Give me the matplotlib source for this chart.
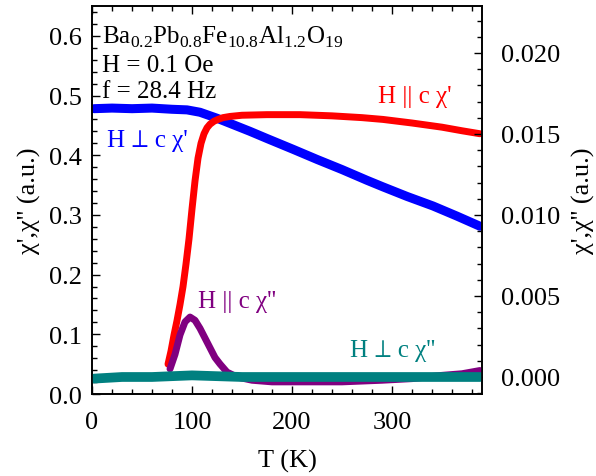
import numpy as np
import matplotlib
matplotlib.use('Agg')
import matplotlib.pyplot as plt
from matplotlib.ticker import MultipleLocator, FormatStrFormatter

plt.rcParams['font.family'] = ['Liberation Serif', 'STIXGeneral', 'DejaVu Serif']
plt.rcParams['mathtext.fontset'] = 'custom'
plt.rcParams['mathtext.rm'] = 'Liberation Serif'
plt.rcParams['font.size'] = 19

# H perp c chi' (left axis)
t_perp_re = [2, 20, 40, 60, 80, 95, 108, 125, 140, 158, 175, 201, 225, 250, 275, 291, 315, 341, 365, 388]
chi_perp_re = [0.478, 0.479, 0.478, 0.479, 0.477, 0.476, 0.472, 0.462, 0.452, 0.440, 0.428, 0.410, 0.393, 0.376, 0.358, 0.347, 0.331, 0.315, 0.298, 0.281]

# H || c chi' (left axis)
t_par_re = [76, 79, 82, 85, 88, 91, 94, 97, 100, 103, 106, 109, 112, 115, 118, 122, 126, 131, 138, 150, 175, 208, 240, 270, 291, 320, 350, 370, 388]
chi_par_re = [0.050, 0.072, 0.099, 0.123, 0.150, 0.180, 0.218, 0.260, 0.310, 0.357, 0.395, 0.420, 0.436, 0.446, 0.452, 0.457, 0.460, 0.463, 0.465, 0.467, 0.468, 0.468, 0.466, 0.463, 0.460, 0.454, 0.447, 0.441, 0.436]

# H || c chi'' (right axis)
t_par_im = [78, 83, 88, 93, 98, 103, 108, 113, 118, 123, 128, 135, 145, 160, 180, 210, 250, 290, 320, 350, 370, 388]
chi_par_im = [0.0005, 0.0014, 0.0026, 0.0034, 0.0037, 0.0035, 0.0030, 0.0024, 0.0018, 0.0012, 0.0008, 0.0003, 0.0000, -0.0002, -0.0003, -0.0003, -0.0003, -0.0002, -0.0001, 0.0001, 0.0002, 0.0004]

# H perp c chi'' (right axis)
t_perp_im = [2, 30, 60, 100, 150, 200, 250, 300, 350, 388]
chi_perp_im = [-0.0001, 0.0, 0.0, 0.0001, 0.0, 0.0, 0.0, 0.0, 0.0, 0.0]

fig = plt.figure(figsize=(5.96, 4.77), dpi=100)
ax = fig.add_axes([0.1544, 0.1719, 0.6543, 0.8134])
ax2 = ax.twinx()

ax.plot(t_perp_re, chi_perp_re, color='#0000ff', lw=6.5, solid_capstyle='round')
ax.plot(t_par_re, chi_par_re, color='#ff0000', lw=5, solid_capstyle='round', solid_joinstyle='round')
ax2.plot(t_par_im, chi_par_im, color='#800080', lw=5, solid_capstyle='round', solid_joinstyle='round')
ax2.plot(t_perp_im, chi_perp_im, color='#008080', lw=7, solid_capstyle='round')

ax.set_xlim(0, 390)
ax.set_ylim(0, 0.65)
ax2.set_ylim(-0.00105, 0.0229)

ax.xaxis.set_major_locator(MultipleLocator(100))
ax.xaxis.set_minor_locator(MultipleLocator(20))
ax.yaxis.set_major_locator(MultipleLocator(0.1))
ax.yaxis.set_minor_locator(MultipleLocator(0.02))
ax.yaxis.set_major_formatter(FormatStrFormatter('%.1f'))
ax2.yaxis.set_major_locator(MultipleLocator(0.005))
ax2.yaxis.set_minor_locator(MultipleLocator(0.001))
ax2.yaxis.set_major_formatter(FormatStrFormatter('%.3f'))

ax.tick_params(which='both', direction='in', top=True, right=False, width=1)
ax.tick_params(which='major', length=6)
ax.tick_params(which='minor', length=3.5)
ax.tick_params(axis='y', which='major', pad=7)
ax.tick_params(axis='x', which='major', pad=12)
ax2.tick_params(which='both', direction='in', width=1)
ax2.tick_params(which='major', length=6, pad=14)
ax2.tick_params(which='minor', length=3.5)
for a in (ax, ax2):
    for s in a.spines.values():
        s.set_linewidth(1.2)

ax.set_xlabel('T (K)', labelpad=12)
ax.set_ylabel("\u03c7',\u03c7'' (a.u.)", labelpad=6)
ax2.set_ylabel("\u03c7',\u03c7'' (a.u.)", labelpad=8)

fs = 18
ax.text(0.026, 0.905, r'Ba$_{0.2}$Pb$_{0.8}$Fe$_{10.8}$Al$_{1.2}$O$_{19}$',
        transform=ax.transAxes, ha='left', va='baseline', fontsize=fs)
ax.text(0.026, 0.832, 'H = 0.1 Oe', transform=ax.transAxes, ha='left', va='baseline', fontsize=fs)
ax.text(0.026, 0.765, 'f = 28.4 Hz', transform=ax.transAxes, ha='left', va='baseline', fontsize=fs)

ax.text(286, 0.489, "H || c \u03c7'", color='#ff0000', ha='left', va='baseline', fontsize=fs)
ax.text(15, 0.415, "H \u22a5 c \u03c7'", color='#0000ff', ha='left', va='baseline', fontsize=fs)
ax.text(106, 0.146, "H || c \u03c7''", color='#800080', ha='left', va='baseline', fontsize=fs)
ax.text(258, 0.064, "H \u22a5 c \u03c7''", color='#008080', ha='left', va='baseline', fontsize=fs)

fig.savefig('out.png', dpi=100)
